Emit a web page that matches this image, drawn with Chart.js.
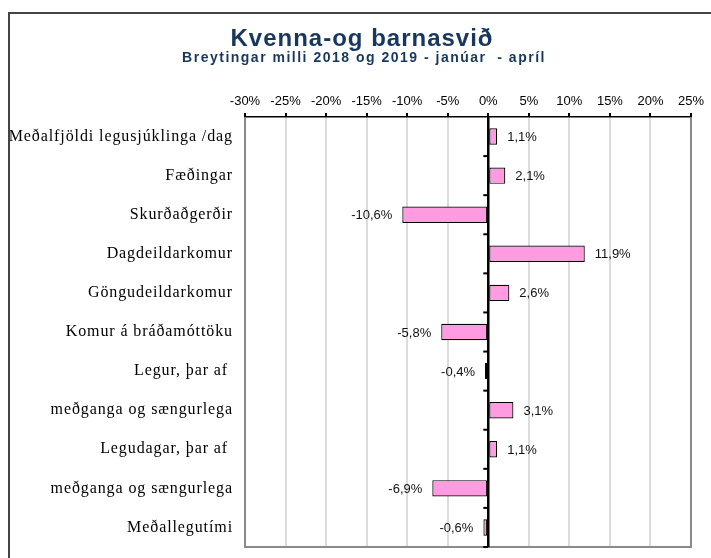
<!DOCTYPE html>
<html>
<head>
<meta charset="utf-8">
<script src="https://cdn.jsdelivr.net/npm/chart.js@4.4.1/dist/chart.umd.min.js"></script>
<style>
  body { margin: 0; background: #fff; }
  canvas { display: block; }
</style>
</head>
<body>
<canvas id="changeChart" width="711" height="558"></canvas>
<script>
// Data
const categories = [
    'Meðalfjöldi legusjúklinga /dag',
    'Fæðingar',
    'Skurðaðgerðir',
    'Dagdeildarkomur',
    'Göngudeildarkomur',
    'Komur á bráðamóttöku',
    'Legur, þar af ',
    'meðganga og sængurlega',
    'Legudagar, þar af ',
    'meðganga og sængurlega',
    'Meðallegutími'
];
const changes = [1.1, 2.1, -10.6, 11.9, 2.6, -5.8, -0.4, 3.1, 1.1, -6.9, -0.6];
const axisMin = -30;
const axisMax = 25;
const axisStep = 5;
const titleText = 'Kvenna-og barnasvið';
const subtitleText = 'Breytingar milli 2018 og 2019 - janúar  - apríl';

const fmt = v => v.toFixed(1).replace('.', ',') + '%';

// extras: frame, zero line, category + value labels, titles
const extras = {
    id: 'extras',
    afterDatasetsDraw(chart) {
        const { ctx, chartArea: a, scales } = chart;
        const zx = scales.x.getPixelForValue(0);
        ctx.save();

        // plot border (grey)
        ctx.strokeStyle = '#8a8a8a';
        ctx.lineWidth = 2;
        ctx.beginPath();
        ctx.moveTo(a.left, a.top);
        ctx.lineTo(a.left, a.bottom);
        ctx.lineTo(a.right, a.bottom);
        ctx.lineTo(a.right, a.top);
        ctx.stroke();

        // zero line with category ticks
        ctx.strokeStyle = '#000';
        ctx.lineWidth = 2.5;
        ctx.beginPath();
        ctx.moveTo(zx, a.top);
        ctx.lineTo(zx, a.bottom);
        ctx.stroke();
        ctx.lineWidth = 2;
        const n = categories.length;
        const step = (a.bottom - a.top) / n;
        for (let i = 1; i <= n; i++) {
            const y = a.top + step * i;
            ctx.beginPath();
            ctx.moveTo(zx - 5, y);
            ctx.lineTo(zx, y);
            ctx.stroke();
        }

        // category labels
        ctx.font = '16px "Liberation Serif", "Times New Roman", serif';
        ctx.letterSpacing = '0.9px';
        ctx.fillStyle = '#000';
        ctx.textAlign = 'right';
        ctx.textBaseline = 'middle';
        categories.forEach((c, i) => {
            ctx.fillText(c, a.left - 12, scales.y.getPixelForValue(i));
        });

        // value labels
        ctx.letterSpacing = '0px';
        ctx.font = '13px "Liberation Sans", Arial, sans-serif';
        ctx.fillStyle = '#111';
        chart.getDatasetMeta(0).data.forEach((el, i) => {
            const v = changes[i];
            if (v >= 0) {
                ctx.textAlign = 'left';
                ctx.fillText(fmt(v), el.x + 10, el.y + 1);
            } else {
                ctx.textAlign = 'right';
                ctx.fillText(fmt(v), el.x - 10, el.y + 1);
            }
        });
        ctx.restore();
    },
    afterDraw(chart) {
        const { ctx } = chart;
        ctx.save();
        // outer frame
        ctx.strokeStyle = '#444';
        ctx.lineWidth = 2;
        ctx.strokeRect(9, 13, 800, 800);

        // titles
        ctx.fillStyle = '#17375e';
        ctx.textAlign = 'center';
        ctx.textBaseline = 'alphabetic';
        ctx.font = 'bold 24px "Liberation Sans", Arial, sans-serif';
        ctx.letterSpacing = '1px';
        ctx.fillText(titleText, 362, 46);
        ctx.font = 'bold 14px "Liberation Sans", Arial, sans-serif';
        ctx.letterSpacing = '1.5px';
        ctx.fillText(subtitleText, 364, 62);
        ctx.restore();
    }
};

new Chart(document.getElementById('changeChart'), {
    type: 'bar',
    data: {
        labels: categories,
        datasets: [{
            data: changes,
            backgroundColor: '#ff9be0',
            borderColor: '#000',
            borderWidth: 1.2,
            borderSkipped: false,
            barPercentage: 0.42,
            categoryPercentage: 1
        }]
    },
    options: {
        indexAxis: 'y',
        responsive: false,
        animation: false,
        layout: { padding: { left: 0, top: 0, right: 20, bottom: 11 } },
        scales: {
            x: {
                position: 'top',
                min: axisMin,
                max: axisMax,
                afterFit(s) { s.height = 117; },
                ticks: {
                    stepSize: axisStep,
                    callback: v => v + '%',
                    color: '#000',
                    padding: 4,
                    font: { family: '"Liberation Sans", Arial, sans-serif', size: 13 }
                },
                grid: { color: '#dcdcdc', lineWidth: 2, tickColor: '#000', tickLength: 4 },
                border: { color: '#000', width: 1.5 }
            },
            y: {
                afterFit(s) { s.width = 245; s.paddingTop = 0; s.paddingBottom = 0; },
                grid: { display: false },
                border: { display: false },
                ticks: { display: false }
            }
        },
        plugins: {
            legend: { display: false },
            tooltip: { enabled: false }
        }
    },
    plugins: [extras]
});
</script>
</body>
</html>
